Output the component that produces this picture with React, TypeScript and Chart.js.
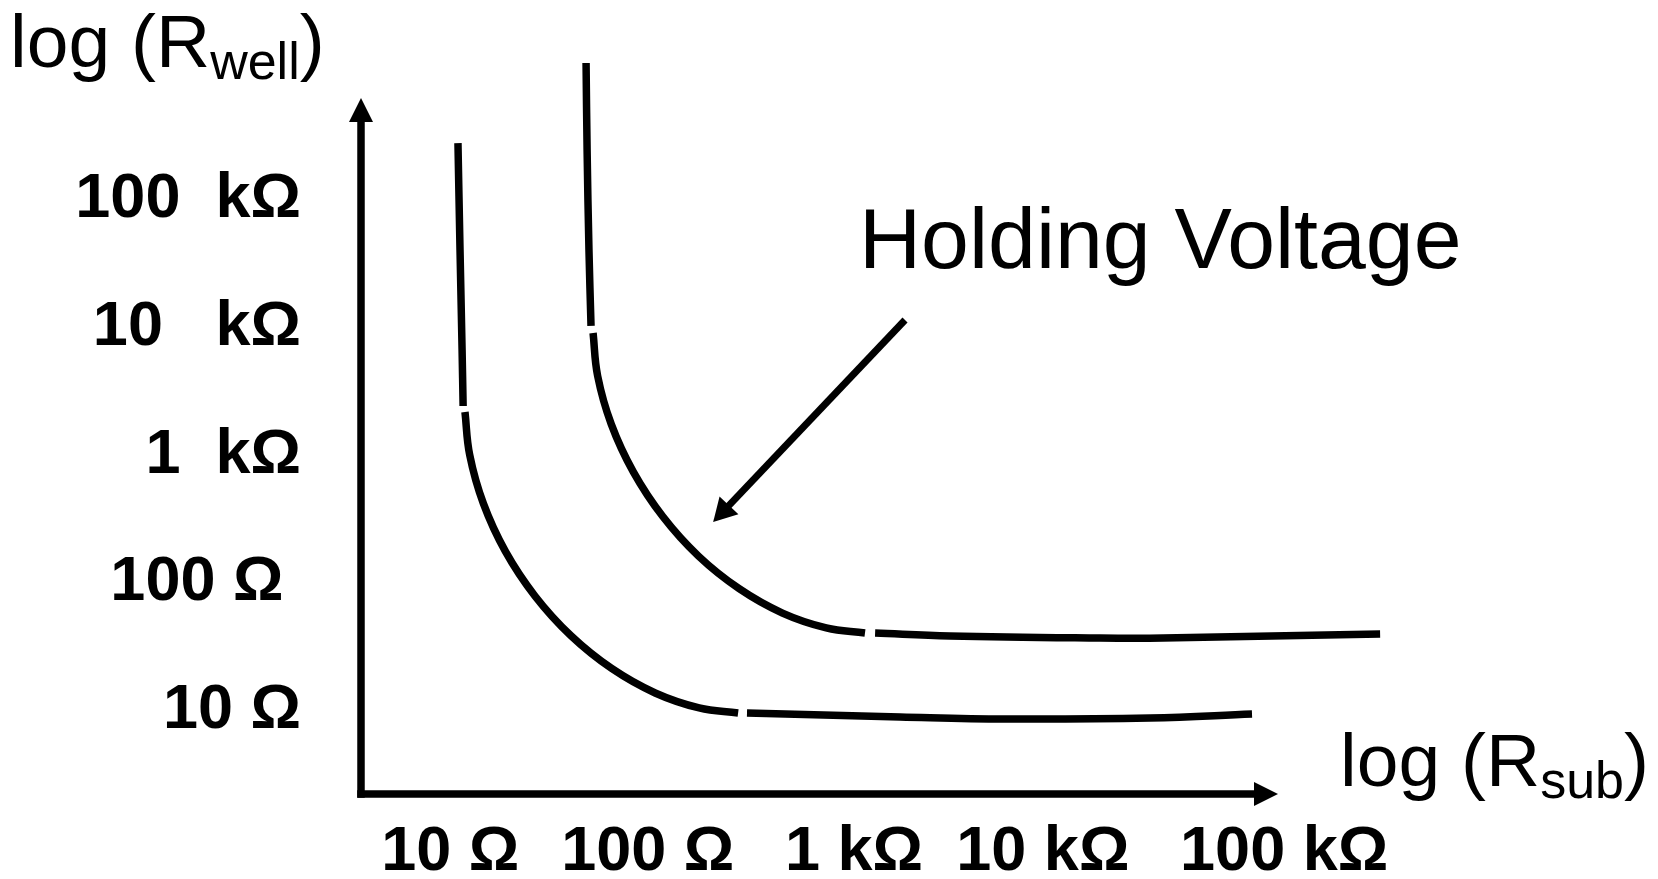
import React, { useEffect, useRef } from "react";
import { Chart, registerables } from "chart.js";

Chart.register(...registerables);

// Axis ticks (values are decades: log10 of resistance in ohms)
const xTickValues = [1, 2, 3, 4, 5];
const xTickLabels = [" 10 Ω", "100 Ω", "1 kΩ", "10 kΩ  ", "  100 kΩ"];
const yTickValues = [1, 2, 3, 4, 5];
const yTickLabels = ["10 Ω", "100 Ω ", "1  kΩ", "10   kΩ", "100  kΩ"];

// Lower curve, three drawn pieces
const lowerVertical = [
  [1.08, 5.407],
  [1.09, 4.569],
  [1.1, 3.786],
  [1.105, 3.347],
];
const lowerBend = [
  [1.114, 3.3],
  [1.137, 2.963],
  [1.203, 2.584],
  [1.31, 2.208],
  [1.454, 1.857],
  [1.628, 1.547],
  [1.825, 1.291],
  [2.036, 1.099],
  [2.249, 0.982],
  [2.438, 0.942],
];
const lowerFlat = [
  [2.481, 0.942],
  [3.223, 0.911],
  [3.732, 0.895],
  [4.435, 0.903],
  [4.929, 0.934],
];

// Upper curve, three drawn pieces
const upperVertical = [
  [1.701, 6.034],
  [1.706, 5.353],
  [1.715, 4.569],
  [1.725, 3.974],
];
const upperBend = [
  [1.735, 3.919],
  [1.757, 3.583],
  [1.823, 3.205],
  [1.93, 2.831],
  [2.073, 2.481],
  [2.246, 2.171],
  [2.443, 1.916],
  [2.653, 1.725],
  [2.865, 1.609],
  [3.053, 1.569],
];
const upperFlat = [
  [3.102, 1.569],
  [3.465, 1.546],
  [4.192, 1.53],
  [4.498, 1.53],
  [5.55, 1.561],
];

// Annotation anchors (in data units)
const arrowFrom = [3.247, 4.021];
const arrowTo = [2.317, 2.438];
const holdingLabelPos = [3.024, 4.428];
const wellTitlePos = [-1.091, 6.003];
const subTitlePos = [5.356, 0.37];

const FONT = "'Liberation Sans', Arial, sans-serif";

function drawSubText(
  ctx: CanvasRenderingContext2D,
  x: number,
  y: number,
  main: string,
  sub: string,
  close: string
) {
  ctx.textAlign = "left";
  ctx.textBaseline = "alphabetic";
  ctx.font = `75px ${FONT}`;
  ctx.fillText(main, x, y);
  let cx = x + ctx.measureText(main).width;
  ctx.font = `52px ${FONT}`;
  ctx.fillText(sub, cx, y + 12);
  cx += ctx.measureText(sub).width;
  ctx.font = `75px ${FONT}`;
  ctx.fillText(close, cx, y);
}

const annotationPlugin = {
  id: "annotations",
  afterDraw(chart: any) {
    const { ctx, chartArea: a, scales } = chart;
    const xs = scales.x;
    const ys = scales.y;
    ctx.save();
    ctx.fillStyle = "#000";
    ctx.strokeStyle = "#000";

    // Axes with arrow heads
    const head = 24;
    const half = 12;
    ctx.lineWidth = 7.5;
    ctx.lineCap = "butt";
    ctx.beginPath();
    ctx.moveTo(a.left, a.bottom + 3.75);
    ctx.lineTo(a.left, a.top + head - 1);
    ctx.stroke();
    ctx.beginPath();
    ctx.moveTo(a.left - 3.75, a.bottom);
    ctx.lineTo(a.right - head + 1, a.bottom);
    ctx.stroke();
    ctx.beginPath();
    ctx.moveTo(a.left, a.top);
    ctx.lineTo(a.left + half, a.top + head);
    ctx.lineTo(a.left - half, a.top + head);
    ctx.closePath();
    ctx.fill();
    ctx.beginPath();
    ctx.moveTo(a.right, a.bottom);
    ctx.lineTo(a.right - head, a.bottom - half);
    ctx.lineTo(a.right - head, a.bottom + half);
    ctx.closePath();
    ctx.fill();

    // Pointer arrow
    const sx = xs.getPixelForValue(arrowFrom[0]);
    const sy = ys.getPixelForValue(arrowFrom[1]);
    const tx = xs.getPixelForValue(arrowTo[0]);
    const ty = ys.getPixelForValue(arrowTo[1]);
    const dx = tx - sx;
    const dy = ty - sy;
    const len = Math.hypot(dx, dy);
    const ux = dx / len;
    const uy = dy / len;
    const hl = 23;
    const hw = 13;
    const bx = tx - ux * hl;
    const by = ty - uy * hl;
    ctx.lineWidth = 7;
    ctx.beginPath();
    ctx.moveTo(sx, sy);
    ctx.lineTo(bx + ux * 2, by + uy * 2);
    ctx.stroke();
    ctx.beginPath();
    ctx.moveTo(tx, ty);
    ctx.lineTo(bx - uy * hw, by + ux * hw);
    ctx.lineTo(bx + uy * hw, by - ux * hw);
    ctx.closePath();
    ctx.fill();

    // Texts
    ctx.textAlign = "left";
    ctx.textBaseline = "alphabetic";
    ctx.font = `86px ${FONT}`;
    ctx.fillText(
      "Holding Voltage",
      xs.getPixelForValue(holdingLabelPos[0]),
      ys.getPixelForValue(holdingLabelPos[1])
    );
    drawSubText(
      ctx,
      xs.getPixelForValue(wellTitlePos[0]),
      ys.getPixelForValue(wellTitlePos[1]),
      "log (R",
      "well",
      ")"
    );
    drawSubText(
      ctx,
      xs.getPixelForValue(subTitlePos[0]),
      ys.getPixelForValue(subTitlePos[1]),
      "log (R",
      "sub",
      ")"
    );
    ctx.restore();
  },
};

export default function App() {
  const ref = useRef<HTMLCanvasElement>(null);

  useEffect(() => {
    document.body.style.margin = "0";
    const canvas = ref.current;
    if (!canvas) return;

    const seg = (pts: number[][]) => ({
      data: pts.map(([x, y]) => ({ x, y })),
      showLine: true,
      borderColor: "#000",
      backgroundColor: "#000",
      borderWidth: 7.5,
      borderCapStyle: "butt" as const,
      pointRadius: 0,
      pointHoverRadius: 0,
      tension: 0.4,
      fill: false,
      clip: false as any,
    });

    const tickFont = { family: FONT, size: 63, weight: "bold" as const, lineHeight: 0.5 };

    const chart = new Chart(canvas, {
      type: "scatter",
      data: {
        datasets: [
          seg(lowerVertical),
          seg(lowerBend),
          seg(lowerFlat),
          seg(upperVertical),
          seg(upperBend),
          seg(upperFlat),
        ],
      },
      options: {
        responsive: false,
        animation: false,
        events: [],
        layout: { padding: { top: 98, right: 380, bottom: 0, left: 0 } },
        plugins: {
          legend: { display: false },
          tooltip: { enabled: false },
        },
        scales: {
          x: {
            type: "linear",
            min: 0.61,
            max: 5.055,
            grid: { display: false, drawTicks: false },
            border: { display: false },
            afterBuildTicks: (s: any) => {
              s.ticks = xTickValues.map((v) => ({ value: v }));
            },
            afterFit: (s: any) => {
              s.height = 85;
            },
            ticks: {
              autoSkip: false,
              maxRotation: 0,
              minRotation: 0,
              padding: 21,
              color: "#000",
              font: { family: FONT, size: 63, weight: "bold" as const },
              callback: (_v: any, i: number) => xTickLabels[i],
            },
          },
          y: {
            type: "linear",
            min: 0.3075,
            max: 5.76,
            grid: { display: false, drawTicks: false },
            border: { display: false },
            afterBuildTicks: (s: any) => {
              s.ticks = yTickValues.map((v) => ({ value: v }));
            },
            afterFit: (s: any) => {
              s.width = 361;
            },
            ticks: {
              autoSkip: false,
              padding: 60,
              labelOffset: 5,
              color: "#000",
              font: tickFont,
              callback: (_v: any, i: number) => yTickLabels[i],
            },
          },
        },
      },
      plugins: [annotationPlugin],
    });

    return () => chart.destroy();
  }, []);

  return (
    <canvas
      ref={ref}
      width={1658}
      height={879}
      style={{ display: "block", width: 1658, height: 879 }}
    />
  );
}
